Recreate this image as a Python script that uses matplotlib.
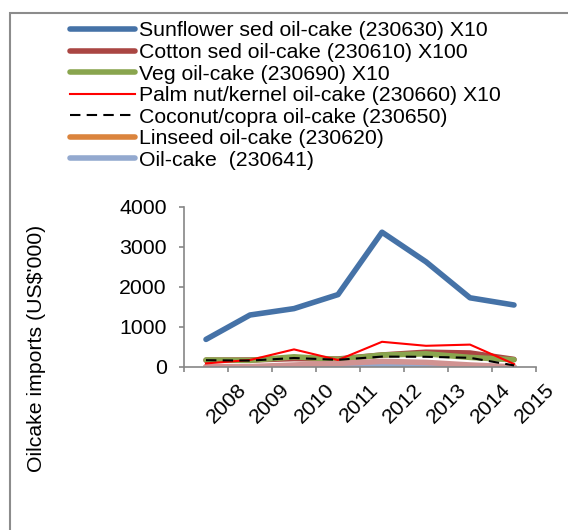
import numpy as np
import matplotlib
matplotlib.use("Agg")
import matplotlib.pyplot as plt
from matplotlib.patches import Rectangle
from matplotlib.transforms import offset_copy

plt.rcParams['font.family'] = ['Liberation Sans', 'DejaVu Sans']

# -------------------- data (US$'000, some series scaled) --------------------
years = ['2008', '2009', '2010', '2011', '2012', '2013', '2014', '2015']
sunflower = [690, 1300, 1460, 1810, 3370, 2630, 1730, 1550]   # x10
cotton = [170, 175, 210, 200, 300, 370, 350, 190]             # x100
veg = [175, 165, 255, 190, 300, 330, 240, 180]                # x10
palm = [90, 175, 440, 175, 630, 530, 560, 75]                 # x10
coconut = [170, 160, 225, 180, 260, 255, 230, 40]
linseed = [5, 5, 5, 5, 5, 5, 5, 5]
oilcake = [0, 0, 0, 15, 40, 20, 0, 0]
other = [10, 10, 50, 90, 140, 115, 50, 5]

W, H = 568, 530
FS = 15.3
fig = plt.figure(figsize=(W / 100, H / 100), dpi=100)
ax = fig.add_axes([184 / W, 1 - 367 / H, 352 / W, 160 / H])

x = np.arange(len(years))
thick = dict(lw=4.0, solid_capstyle='round', solid_joinstyle='round')

ax.plot(x, sunflower, color='#4572A7', label='Sunflower sed oil-cake (230630) X10', **thick)
ax.plot(x, cotton, color='#AA4643', label='Cotton sed oil-cake (230610) X100', **thick)
ax.plot(x, veg, color='#89A54E', label='Veg oil-cake (230690) X10', **thick)
ax.plot(x, palm, color='#FF0000', lw=1.5, label='Palm nut/kernel oil-cake (230660) X10')
ax.plot(x, coconut, color='black', lw=1.5, ls=(0, (5, 3)), label='Coconut/copra oil-cake (230650)')
ax.plot(x, linseed, color='#DB843D', label='Linseed oil-cake (230620)', **thick)
ax.plot(x, oilcake, color='#93A9CF', label='Oil-cake  (230641)', **thick)
ax.plot(x, other, color='#D19392', **thick)

# palm/coconut and sunflower on top of the thick lines
for ln in ax.lines:
    ln.set_zorder(2)
ax.lines[3].set_zorder(4)
ax.lines[4].set_zorder(4)
ax.lines[0].set_zorder(5)

ax.set_xlim(-0.5, len(years) - 0.5)
ax.set_ylim(0, 4000)
ax.set_yticks([0, 1000, 2000, 3000, 4000])
ax.set_xticks(np.arange(-0.5, len(years), 1))
ax.set_xticklabels([])

for s in ['top', 'right']:
    ax.spines[s].set_visible(False)
for s in ['left', 'bottom']:
    ax.spines[s].set_color('#868686')
    ax.spines[s].set_linewidth(1.2)
ax.tick_params(axis='both', colors='#868686', length=3.6, width=1.2, labelcolor='black')
ax.tick_params(axis='y', labelsize=FS, pad=9.0)

# rotated year labels sit to the right of each category
lab_tr = offset_copy(ax.get_xaxis_transform(), fig=fig, x=37, y=-20, units='dots')
for xi, yr in zip(x, years):
    ax.text(xi, 0, yr, transform=lab_tr, rotation=45, rotation_mode='anchor',
            ha='right', va='center', fontsize=FS)

fig.text(37 / W, 1 - 348 / H, "Oilcake imports (US$'000)", rotation=90,
         ha='center', va='center', fontsize=FS)

leg = fig.legend(loc='upper left', bbox_to_anchor=(70 / W, 1 - 21.5 / H), frameon=False,
                 fontsize=FS, handlelength=3.05, handletextpad=0.22,
                 labelspacing=0.12, borderpad=0, borderaxespad=0)

# chart border
fig.patches.append(Rectangle((9.5 / W, -0.5), 2.0, 0.5 + 1 - 12.5 / H, transform=fig.transFigure,
                             fill=False, edgecolor='#8C8C8C', lw=1.5))

fig.savefig('out.png', dpi=100)
